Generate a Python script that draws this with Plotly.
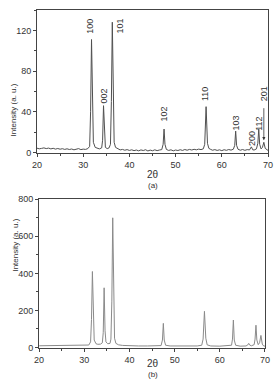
import plotly.graph_objects as go

# (a) pattern
xa = [20, 20.5, 21, 21.5, 22, 22.5, 23, 23.5, 24, 24.5, 25, 25.5, 26, 26.5, 27, 27.5, 28, 28.5, 29, 29.5,
      30, 30.5, 31, 31.4, 31.6, 31.8, 32.0, 32.2, 32.6, 33, 33.5, 34, 34.2, 34.4, 34.6, 34.8, 35.2, 35.6,
      35.9, 36.1, 36.3, 36.5, 36.7, 37, 37.5, 38, 38.5, 39, 39.5, 40, 40.5, 41, 41.5, 42, 42.5, 43, 43.5,
      44, 44.5, 45, 45.5, 46, 46.5, 47, 47.3, 47.5, 47.7, 48, 48.5, 49, 49.5, 50, 50.5, 51, 51.5, 52, 52.5,
      53, 53.5, 54, 54.5, 55, 55.5, 56, 56.3, 56.6, 56.9, 57.2, 57.6, 58, 58.5, 59, 59.5, 60, 60.5, 61,
      61.5, 62, 62.5, 62.8, 63.0, 63.2, 63.5, 64, 64.5, 65, 65.5, 66, 66.4, 66.7, 67, 67.5, 67.8, 68.0,
      68.2, 68.5, 68.8, 69.1, 69.4, 69.7, 70]
ya = [4.2, 3.6, 4.0, 4.5, 3.8, 4.3, 3.5, 4.1, 3.3, 3.9, 3.2, 3.7, 3.0, 3.6, 2.9, 3.4, 2.6, 3.2, 3.8, 2.8,
      3.3, 3.0, 3.8, 6, 40, 111, 45, 10, 5, 4.2, 3.5, 4.5, 12, 46, 14, 5, 3.8, 4.5,
      8, 50, 128, 45, 10, 5, 3.4, 2.5, 3.0, 2.2, 2.8, 2.0, 2.6, 1.8, 2.4, 1.6, 2.5, 1.9, 2.7,
      1.5, 2.3, 1.7, 2.6, 1.8, 2.4, 2.8, 8, 23, 8, 3, 2.0, 2.6, 1.6, 2.4, 1.9, 2.7, 2.0, 2.9, 2.2,
      3.0, 2.4, 3.1, 2.6, 3.3, 2.8, 3.6, 8, 45, 9, 4, 3.0, 2.2, 2.8, 2.0, 2.6, 1.8, 2.7, 2.1,
      2.9, 2.3, 3.2, 7, 21, 7, 3.2, 2.2, 2.9, 2.1, 2.8, 2.5, 5.5, 2.6, 2.4, 3.5, 9, 23,
      8, 3.5, 5, 10, 4, 2.5, 2.0]

# (b) pattern
xb = [20, 22, 24, 26, 28, 30, 31, 31.4, 31.6, 31.8, 32.0, 32.2, 32.6, 33, 33.6, 34, 34.2, 34.4, 34.6, 34.8,
      35.2, 35.7, 35.9, 36.1, 36.3, 36.5, 36.7, 37, 37.6, 38.5, 40, 42, 44, 46, 47, 47.3, 47.5, 47.7, 48,
      49, 51, 53, 55, 56, 56.3, 56.6, 56.9, 57.2, 58, 60, 62, 62.6, 62.8, 63.0, 63.2, 63.5, 64.5, 65.8,
      66.2, 66.4, 66.6, 67, 67.6, 67.8, 68.0, 68.2, 68.5, 68.8, 69.1, 69.4, 69.7, 70]
yb = [9, 9.5, 10, 9, 9.5, 10, 13, 30, 150, 410, 160, 40, 20, 17, 18, 25, 80, 322, 90, 30,
      20, 22, 45, 250, 700, 240, 50, 22, 14, 11, 9, 8, 8, 8, 10, 40, 130, 40, 12,
      8, 7, 8, 8, 12, 45, 195, 50, 14, 8, 7, 8, 12, 45, 148, 40, 12, 7, 8,
      14, 22, 13, 9, 15, 45, 120, 40, 15, 25, 65, 18, 8, 7]

# peak labels for (a)
lab_text = ["100", "101", "002", "102", "110", "103", "200", "112", "201"]
lab_x = [31.6, 38.0, 34.3, 47.4, 56.5, 63.0, 66.4, 68.0, 69.3]
lab_y = [124, 124, 55, 38, 57, 29, 13.5, 28, 58]

FONT = "Liberation Sans, Arial, sans-serif"
AX = "#444444"

fig = go.Figure()
fig.add_trace(go.Scatter(x=xa, y=ya, mode="lines", line=dict(color="#505050", width=1),
                         xaxis="x", yaxis="y", showlegend=False))
fig.add_trace(go.Scatter(x=xb, y=yb, mode="lines", line=dict(color="#8a8a8a", width=1),
                         xaxis="x2", yaxis="y2", showlegend=False))

axcommon = dict(showgrid=False, zeroline=False, showline=True, linecolor=AX, linewidth=1,
                mirror=True, ticks="outside", ticklen=3, tickcolor=AX,
                tickfont=dict(family=FONT, size=9, color="#333"),
                minor=dict(ticks="outside", ticklen=2, tickcolor=AX))

fig.update_layout(
    width=278, height=391,
    margin=dict(l=37, r=6, t=5, b=43),
    paper_bgcolor="white", plot_bgcolor="white",
    xaxis=dict(axcommon, domain=[0, 1], range=[20, 70], tickvals=[20, 30, 40, 50, 60, 70],
               minor=dict(ticks="outside", ticklen=2, tickcolor=AX, dtick=5), anchor="y"),
    yaxis=dict(axcommon, domain=[0.577, 1], range=[-0.5, 140], tickvals=[0, 40, 80, 120],
               minor=dict(ticks="outside", ticklen=2, tickcolor=AX, dtick=20), anchor="x"),
    xaxis2=dict(axcommon, domain=[0.009, 0.987], range=[20, 70], tickvals=[20, 30, 40, 50, 60, 70],
                minor=dict(ticks="outside", ticklen=2, tickcolor=AX, dtick=5), anchor="y2"),
    yaxis2=dict(axcommon, domain=[0, 0.44], range=[-3, 800], tickvals=[0, 200, 400, 600, 800],
                minor=dict(ticks="outside", ticklen=2, tickcolor=AX, dtick=100), anchor="x2"),
)

for t, x, y in zip(lab_text, lab_x, lab_y):
    fig.add_annotation(x=x, y=y, xref="x", yref="y", text=t, showarrow=False, textangle=-90,
                       font=dict(family=FONT, size=9, color="#333"))

# arrow for 201
fig.add_annotation(x=69.1, y=12, ax=69.1, ay=45, xref="x", yref="y", axref="x", ayref="y",
                   showarrow=True, arrowhead=2, arrowsize=0.8, arrowwidth=0.8, arrowcolor="#333", text="")

# axis titles & panel labels
def ptxt(x, y, text, size=9, angle=0):
    fig.add_annotation(x=x, y=y, xref="paper", yref="paper", text=text, showarrow=False,
                       textangle=angle, font=dict(family=FONT, size=size, color="#333"))

ptxt(0.5, (348 - 172) / 343, "2θ", 10)
ptxt(0.5, (348 - 183) / 343, "(a)", 8)
ptxt(0.5, (348 - 371) / 343, "2θ", 10)
ptxt(0.5, (348 - 381) / 343, "(b)", 8)
ptxt(-31 / 235, (348 - 78) / 343, "Intensity (a. u.)", 8, -90)
ptxt(-28 / 235, (348 - 272) / 343, "Intensity (a. u.)", 8, -90)

fig.write_html("out.html")
